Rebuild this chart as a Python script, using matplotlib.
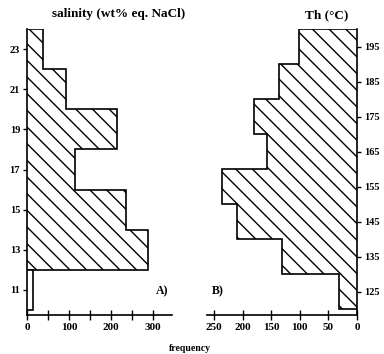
import matplotlib
matplotlib.use("Agg")
import matplotlib.pyplot as plt
import numpy as np

# salinity histogram (wt% eq. NaCl), bins of 2
sal_edges = [10, 12, 14, 16, 18, 20, 22, 24]
sal_counts = [14, 288, 235, 115, 213, 93, 38]
sal_ticks = [11, 13, 15, 17, 19, 21, 23]

# homogenisation temperature histogram (Th, deg C), bins of 10
th_edges = [120, 130, 140, 150, 160, 170, 180, 190, 200]
th_counts = [31, 131, 210, 236, 157, 180, 136, 101]
th_ticks = [125, 135, 145, 155, 165, 175, 185, 195]

plt.rcParams['font.family'] = ['Liberation Serif', 'DejaVu Serif']
plt.rcParams['hatch.linewidth'] = 1.0

fig = plt.figure(figsize=(3.84, 3.54), dpi=100)
axA = fig.add_axes([0.0703, 0.110, 0.378, 0.808])
axB = fig.add_axes([0.539, 0.110, 0.391, 0.808])

# A) salinity
axA.stairs(sal_counts[1:], sal_edges[1:], orientation='horizontal', fill=True,
           facecolor='white', edgecolor='black', hatch='\\\\', linewidth=1.2)
axA.stairs(sal_counts[:1], sal_edges[:2], orientation='horizontal', fill=True,
           facecolor='white', edgecolor='black', linewidth=1.2)
axA.set_ylim(9.75, 24)
axA.set_xlim(0, 345)
axA.set_yticks(sal_ticks)
axA.set_xticks([0, 100, 200, 300])
axA.set_xticks([50, 150, 250], minor=True)
axA.spines[['top', 'right']].set_visible(False)
axA.set_title("salinity (wt% eq. NaCl)", fontsize=9.5, fontweight='bold', pad=9, x=0.63)
axA.text(0.89, 0.084, "A)", transform=axA.transAxes, fontsize=8.5,
         fontweight='bold', va='center')

# B) Th
axB.stairs(th_counts, th_edges, orientation='horizontal', fill=True,
           facecolor='white', edgecolor='black', hatch='\\\\', linewidth=1.2)
axB.set_ylim(118.3, 200)
axB.set_xlim(262, 0)
axB.set_yticks(th_ticks)
axB.set_xticks([250, 200, 150, 100, 50, 0])
axB.yaxis.tick_right()
axB.spines[['top', 'left']].set_visible(False)
axB.set_title("Th (°C)", fontsize=9.5, fontweight='bold', pad=8, x=0.8)
axB.text(0.03, 0.084, "B)", transform=axB.transAxes, fontsize=8.5,
         fontweight='bold', va='center')

for ax in (axA, axB):
    ax.spines[:].set_linewidth(1.2)
    ax.tick_params(axis='x', which='both', direction='inout', length=7, width=1,
                   labelsize=8, pad=2)
    ax.tick_params(axis='y', direction='out', length=3, width=1, labelsize=7.5, pad=2)
    for lab in ax.get_xticklabels() + ax.get_yticklabels():
        lab.set_fontweight('bold')

fig.text(0.495, 0.003, "frequency", ha='center', va='bottom', fontsize=7,
         fontweight='bold')

fig.savefig("out.png", dpi=100)
